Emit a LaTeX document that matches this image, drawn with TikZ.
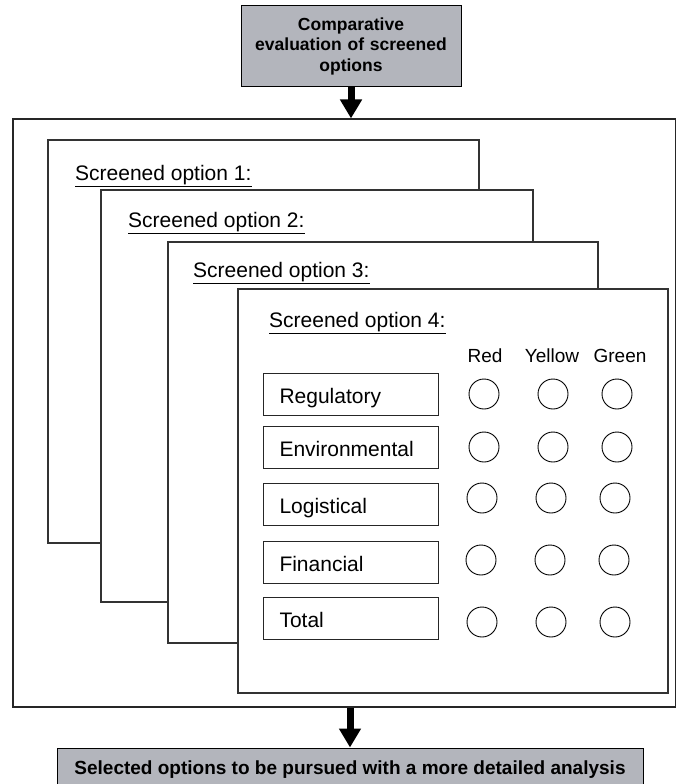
\documentclass[tikz,border=0pt]{standalone}
\usepackage{fontspec}
\setmainfont{Liberation Sans}
\usetikzlibrary{arrows.meta}
\definecolor{boxgray}{RGB}{179,181,188}
\tikzset{
  graybox/.style={draw, fill=boxgray, line width=1pt, font=\bfseries, align=center},
  optbox/.style={draw=black!80, fill=white, line width=1.1pt},
  opttitle/.style={anchor=base west, inner sep=0pt, font=\fontsize{21}{25}\selectfont},
  rowbox/.style={draw=black!85, line width=1pt, minimum width=175pt, minimum height=42pt,
    text width=143pt, inner xsep=16pt, align=left, text height=18pt, text depth=0pt,
    font=\fontsize{21}{25}\selectfont},
  dot/.style={circle, draw, line width=0.9pt, minimum size=30pt, inner sep=0pt},
  colhead/.style={anchor=base, inner sep=0pt, font=\fontsize{19}{23}\selectfont},
  bigarrow/.style={line width=7pt, -{Triangle[length=19pt, width=21pt]}},
}
\begin{document}
\begin{tikzpicture}[x=1pt, y=-1pt]
  \useasboundingbox (0,0) rectangle (675,784);

  % top and bottom boxes
  \node[graybox, minimum width=220pt, minimum height=80pt, text width=206pt,
    font=\bfseries\fontsize{17.5}{20.5}\selectfont] (evalbox) at (351,46)
    {Comparative\\evaluation of screened\\options};
  \node[draw=black!85, line width=1.1pt, minimum width=663pt, minimum height=588pt] (frame) at (344.5,413) {};
  \node[graybox, minimum width=586pt, minimum height=40pt, text height=13.6pt, text depth=0pt,
    font=\bfseries\fontsize{19}{23}\selectfont] (selbox) at (350,768)
    {Selected options to be pursued with a more detailed analysis};

  \draw[bigarrow] (evalbox.south) -- (evalbox.south |- frame.north);
  \draw[bigarrow] (frame.south -| selbox.north) -- (selbox.north);

  % stacked option sheets
  \foreach \x/\y/\xx/\yy/\tx/\ty [count=\k] in {48/140/479/543/75/180, 101/190/533/602/128/227,
      168/242/598/643/193/277, 238/289/668/693/269/327} {
    \draw[optbox] (\x,\y) rectangle (\xx,\yy);
    \node[opttitle] (opt\k) at (\tx,\ty) {Screened option \k:};
    \draw[line width=1.2pt] ([yshift=-6.5pt]opt\k.base west) -- ([yshift=-6.5pt]opt\k.base east);
  }

  % rating table
  \node[colhead] (hdred) at (485,362) {Red};
  \node[colhead] (hdyel) at (552,362) {Yellow};
  \node[colhead] (hdgrn) at (620,362) {Green};

  \foreach \name/\lab/\by/\cy/\dx in {reg/Regulatory/394/394/0, env/Environmental/447/447/0,
      log/Logistical/504/498/-2, fin/Financial/562/560/-3, tot/Total/618/622/-2} {
    \node[rowbox] (\name) at (351,\by) {\lab};
    \foreach \col/\cx in {red/484, yel/553, grn/617}
      \node[dot] (\name-\col) at (\cx+\dx,\cy) {};
  }
\end{tikzpicture}
\end{document}
